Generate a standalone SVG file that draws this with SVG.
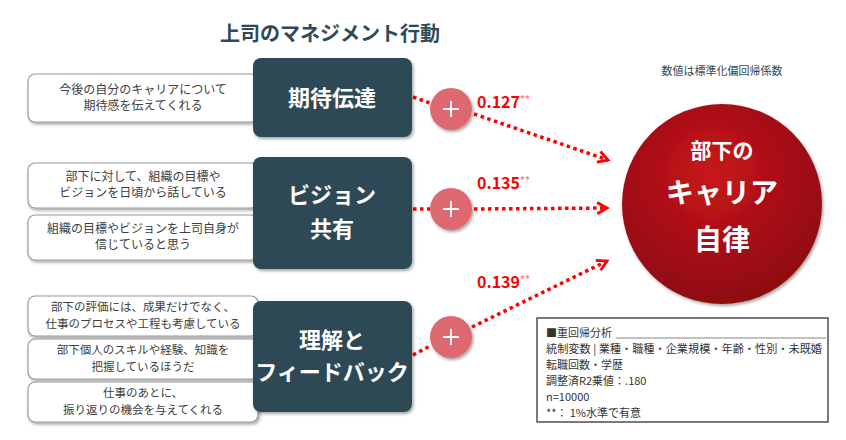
<svg xmlns="http://www.w3.org/2000/svg" width="846" height="440" viewBox="0 0 846 440">
<defs>
<style>
.t{font-family:"Noto Sans CJK JP","Noto Sans",sans-serif}
.wb{fill:#fff;stroke:#999;stroke-width:1.2}
.wt{font-size:12px;fill:#404040;text-anchor:middle}
.ws{font-size:11.5px}
.db{fill:#2e4a56}
.dt{font-size:22px;font-weight:bold;fill:#fff;text-anchor:middle}
.pc{fill:#de6870}
.pl{stroke:#fff;stroke-width:2}
.ln{stroke:#f00;stroke-width:3.5;stroke-dasharray:3.5 3.5;fill:none}
.val{font-size:16px;font-weight:bold;fill:#f00}
.st{font-size:10px;fill:#f88}
.nt{font-size:11px;fill:#333}
</style>
<marker id="ah" viewBox="0 0 10 10" refX="8" refY="5" markerWidth="4" markerHeight="4" orient="auto" markerUnits="strokeWidth"><path d="M1,1 L8,5 L1,9" fill="none" stroke="#f00" stroke-width="2"/></marker>
<radialGradient id="rg" cx="0.45" cy="0.35" r="0.7"><stop offset="0" stop-color="#c8151b"/><stop offset="1" stop-color="#8a0a10"/></radialGradient>
<filter id="sh" x="-20%" y="-20%" width="140%" height="140%"><feDropShadow dx="1.5" dy="2" stdDeviation="1.5" flood-opacity="0.35"/></filter>
</defs>
<rect width="846" height="440" fill="#fff"/>
<text class="t" x="330" y="41" font-size="20" font-weight="bold" fill="#2e4a56" text-anchor="middle">上司のマネジメント行動</text>
<text class="t" x="722" y="75" font-size="11" fill="#2e4a56" text-anchor="middle">数値は標準化偏回帰係数</text>
<g id="connectors">
<path class="ln" d="M413,97 L430,103"/><path class="ln" d="M474,114 L608,160" marker-end="url(#ah)"/>
<path class="ln" d="M413,209 L430,209"/><path class="ln" d="M474,209 L607,208" marker-end="url(#ah)"/>
<path class="ln" d="M413,355 L430,346"/><path class="ln" d="M472,327 L607,261" marker-end="url(#ah)"/>
</g>
<g id="w1" filter="url(#sh)"><rect class="wb" x="28" y="74" width="230" height="48" rx="7"/></g>
<text class="t wt" x="143" y="94">今後の自分のキャリアについて</text><text class="t wt" x="143" y="110">期待感を伝えてくれる</text>
<g id="w2" filter="url(#sh)"><rect class="wb" x="28" y="163" width="230" height="45" rx="7"/></g>
<text class="t wt" x="143" y="181">部下に対して、組織の目標や</text><text class="t wt" x="143" y="197">ビジョンを日頃から話している</text>
<g id="w3" filter="url(#sh)"><rect class="wb" x="28" y="215" width="230" height="45" rx="7"/></g>
<text class="t wt" x="143" y="233">組織の目標やビジョンを上司自身が</text><text class="t wt" x="143" y="249">信じていると思う</text>
<g id="w4" filter="url(#sh)"><rect class="wb" x="28" y="296" width="230" height="40" rx="7"/></g>
<text class="t wt ws" x="143" y="311">部下の評価には、成果だけでなく、</text><text class="t wt ws" x="143" y="328">仕事のプロセスや工程も考慮している</text>
<g id="w5" filter="url(#sh)"><rect class="wb" x="28" y="339" width="230" height="40" rx="7"/></g>
<text class="t wt ws" x="143" y="354">部下個人のスキルや経験、知識を</text><text class="t wt ws" x="143" y="371">把握しているほうだ</text>
<g id="w6" filter="url(#sh)"><rect class="wb" x="28" y="382" width="230" height="40" rx="7"/></g>
<text class="t wt ws" x="143" y="397">仕事のあとに、</text><text class="t wt ws" x="143" y="414">振り返りの機会を与えてくれる</text>
<g id="d1" filter="url(#sh)"><rect class="db" x="253" y="58" width="159" height="79" rx="8"/></g>
<text class="t dt" x="332" y="106">期待伝達</text>
<g id="d2" filter="url(#sh)"><rect class="db" x="253" y="157" width="159" height="112" rx="8"/></g>
<text class="t dt" x="332" y="203">ビジョン</text><text class="t dt" x="332" y="237">共有</text>
<g id="d3" filter="url(#sh)"><rect class="db" x="253" y="301" width="159" height="111" rx="8"/></g>
<text class="t dt" x="332" y="348">理解と</text><text class="t dt" x="332" y="380">フィードバック</text>
<g id="p1" filter="url(#sh)"><circle class="pc" cx="451" cy="109" r="21"/><path class="pl" d="M443,109h16M451,101v16"/></g>
<g id="p2" filter="url(#sh)"><circle class="pc" cx="451" cy="209" r="21"/><path class="pl" d="M443,209h16M451,201v16"/></g>
<g id="p3" filter="url(#sh)"><circle class="pc" cx="451" cy="337" r="21"/><path class="pl" d="M443,337h16M451,329v16"/></g>
<text class="t val" x="477" y="108">0.127<tspan class="st" dy="-5">**</tspan></text>
<text class="t val" x="477" y="189">0.135<tspan class="st" dy="-5">**</tspan></text>
<text class="t val" x="477" y="288">0.139<tspan class="st" dy="-5">**</tspan></text>
<g id="target" filter="url(#sh)"><circle cx="722" cy="204" r="100" fill="url(#rg)"/></g>
<text class="t" x="722" y="158" font-size="21" font-weight="bold" fill="#fff" text-anchor="middle">部下の</text>
<text class="t" x="722" y="203" font-size="28" font-weight="bold" fill="#fff" text-anchor="middle">キャリア</text>
<text class="t" x="722" y="250" font-size="28" font-weight="bold" fill="#fff" text-anchor="middle">自律</text>
<g id="note"><rect x="537" y="318" width="291" height="104" fill="#fff" stroke="#222" stroke-width="1.2"/>
<text class="t nt" x="546" y="337">■重回帰分析</text><line x1="616" y1="338" x2="826" y2="338" stroke="#666" stroke-width="0.8"/>
<text class="t nt" x="546" y="353" textLength="276" lengthAdjust="spacingAndGlyphs">統制変数 | 業種・職種・企業規模・年齢・性別・未既婚</text>
<text class="t nt" x="546" y="369">転職回数・学歴</text>
<text class="t nt" x="546" y="385">調整済R2乗値：.180</text>
<text class="t nt" x="546" y="401">n=10000</text>
<text class="t nt" x="546" y="417">**：  1%水準で有意</text>
</g>
</svg>
